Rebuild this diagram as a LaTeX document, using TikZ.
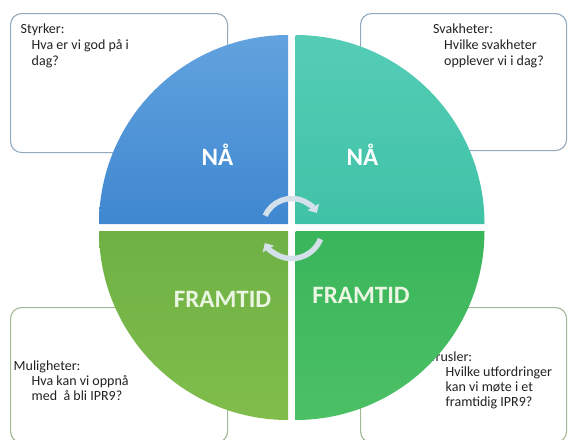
\documentclass[tikz,border=0pt]{standalone}
\usepackage{fontspec}
\setmainfont{Carlito}
\usetikzlibrary{arrows.meta}
\definecolor{qblueT}{HTML}{62A3DE}
\definecolor{qblueB}{HTML}{3F87D0}
\definecolor{qtealT}{HTML}{55CDB6}
\definecolor{qtealB}{HTML}{40C2A7}
\definecolor{qgrnLT}{HTML}{6FB145}
\definecolor{qgrnLB}{HTML}{80BD4B}
\definecolor{qgrnRT}{HTML}{3AB55B}
\definecolor{qgrnRB}{HTML}{4CC065}
\definecolor{boxtop}{HTML}{93A9BE}
\definecolor{boxbot}{HTML}{A3B894}
\definecolor{arrowc}{HTML}{D4E0EA}
\definecolor{txtc}{HTML}{222222}
\definecolor{framc}{HTML}{EAF6E2}
\tikzset{
  infobox/.style={draw, fill=white, line width=1.1pt, rounded corners=11pt, anchor=north west, inner sep=0pt},
  infotxt/.style={anchor=base west, inner sep=0pt, align=left, text=txtc, font=\fontsize{14}{15.7}\selectfont},
  infotxtb/.style={infotxt, font=\fontsize{14}{15}\selectfont},
  biglabel/.style={inner sep=0pt, anchor=base, font=\bfseries\fontsize{25}{30}\selectfont},
  cyc/.style={draw=arrowc, line width=5.5pt, -{Triangle[width=13pt,length=7pt]}}
}
\begin{document}
\begin{tikzpicture}[x=1pt,y=-1pt]
\useasboundingbox (0,0) rectangle (570,439);
% boxes
\node[infobox, draw=boxtop, minimum width=217pt, minimum height=139pt] (bs) at (10,13) {};
\node[infobox, draw=boxtop, minimum width=206pt, minimum height=137pt] (bw) at (360,13) {};
\node[infobox, draw=boxbot, minimum width=217pt, minimum height=135pt] (bo) at (10,307) {};
\node[infobox, draw=boxbot, minimum width=206pt, minimum height=135pt] (bt) at (360,307) {};
% texts (anchor = baseline of the last line)
\node[infotxt] (ts) at (20.5,65) {Styrker:\\\hspace*{11pt}Hva er vi god på i\\\hspace*{11pt}dag?};
\node[infotxt] (tw) at (433,65) {Svakheter:\\\hspace*{11pt}Hvilke svakheter\\\hspace*{11pt}opplever vi i dag?};
\node[infotxtb] (to) at (13.5,400) {Muligheter:\\\hspace*{18pt}Hva kan vi oppnå\\\hspace*{18pt}med\ \ å bli IPR9?};
\node[infotxtb] (tt) at (429.5,406.5) {Trusler:\\\hspace*{16pt}Hvilke utfordringer\\\hspace*{16pt}kan vi møte i et\\\hspace*{16pt}framtidig IPR9?};
% quadrants
\shade[top color=qblueT, bottom color=qblueB] (288,224) -- (99,224) arc[start angle=180, end angle=270, radius=189] -- cycle;
\shade[top color=qtealT, bottom color=qtealB] (295.5,224) -- (295.5,35) arc[start angle=270, end angle=360, radius=189] -- cycle;
\shade[top color=qgrnLT, bottom color=qgrnLB] (288,231) -- (99,231) arc[start angle=180, end angle=90, radius=189] -- cycle;
\shade[top color=qgrnRT, bottom color=qgrnRB] (295.5,231) -- (484.5,231) arc[start angle=0, end angle=90, radius=189] -- cycle;
% labels
\node[biglabel, text=white] (n1) at (217.5,165.5) {NÅ};
\node[biglabel, text=white] (n2) at (362.5,165) {NÅ};
\node[biglabel, text=framc] (f1) at (222.5,307) {FRAMTID};
\node[biglabel, text=framc] (f2) at (361,303.5) {FRAMTID};
% cycle arrows
\coordinate (cc) at (291.7,227.5);
\draw[cyc] ([shift={(-156:29)}]cc) arc[start angle=-156, end angle=-30, radius=29];
\draw[cyc] ([shift={(22:31)}]cc) arc[start angle=22, end angle=150, radius=31];
\end{tikzpicture}
\end{document}
